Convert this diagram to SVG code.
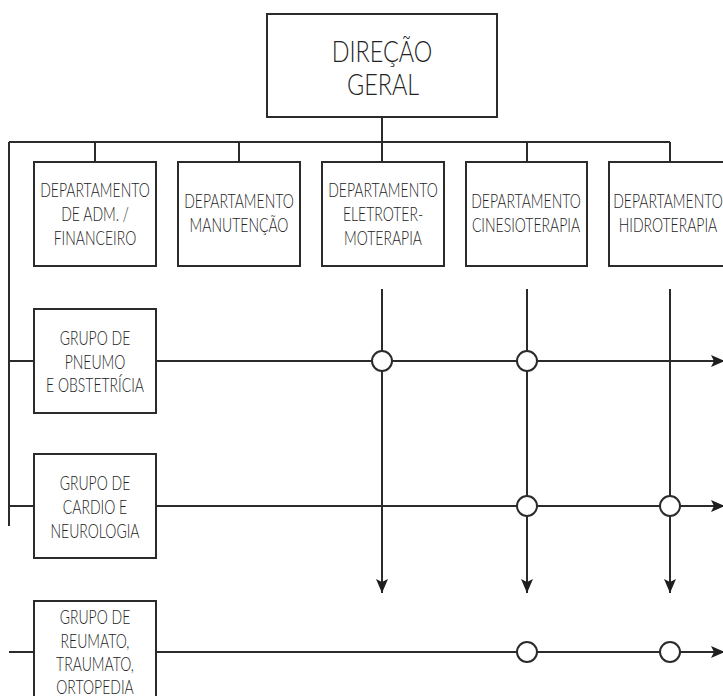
<svg xmlns="http://www.w3.org/2000/svg" width="723" height="696" viewBox="0 0 723 696">
<style>
.box{fill:#fff;stroke:#2b2b2b;stroke-width:2}
.ln{fill:none;stroke:#2b2b2b;stroke-width:2}
.jn{fill:#fff;stroke:#2b2b2b;stroke-width:2}
.t{font-family:Lato,"Liberation Sans",Arial,sans-serif;font-weight:300;font-size:20px;fill:#222;text-anchor:middle}
.tt{font-family:Lato,"Liberation Sans",Arial,sans-serif;font-weight:300;font-size:30px;fill:#222;text-anchor:middle}
</style>
<defs>
<marker id="ah" viewBox="0 0 14 12" refX="14" refY="6" markerWidth="14" markerHeight="12" markerUnits="userSpaceOnUse" orient="auto">
<path d="M0,0 L14,6 L0,12 L3,6 z" fill="#1e1e1e"/>
</marker>
</defs>
<rect width="723" height="696" fill="#fff"/>
<g id="connectors">
<path class="ln" d="M382,117 V142 M9,142 H670 M95,142 V162 M239,142 V162 M382,142 V162 M527,142 V162 M670,142 V162 M9,142 V526"/>
<path class="ln" d="M9,361 H34 M9,506 H34 M9,652 H34"/>
<path class="ln" marker-end="url(#ah)" d="M156,361 H725"/>
<path class="ln" marker-end="url(#ah)" d="M156,506 H725"/>
<path class="ln" marker-end="url(#ah)" d="M156,652 H725"/>
<path class="ln" marker-end="url(#ah)" d="M382,289 V593"/>
<path class="ln" marker-end="url(#ah)" d="M527,289 V593"/>
<path class="ln" marker-end="url(#ah)" d="M670,289 V593"/>
<circle class="jn" cx="382" cy="361" r="10"/>
<circle class="jn" cx="527" cy="361" r="10"/>
<circle class="jn" cx="527" cy="506" r="10"/>
<circle class="jn" cx="670" cy="506" r="10"/>
<circle class="jn" cx="527" cy="652" r="10"/>
<circle class="jn" cx="670" cy="652" r="10"/>
</g>
<g id="direcao">
<rect class="box" x="267" y="14" width="230" height="103"/>
<text class="tt" transform="translate(382,62) scale(0.78,1)">DIREÇÃO</text>
<text class="tt" transform="translate(383,95) scale(0.78,1)">GERAL</text>
</g>
<g id="dep-adm">
<rect class="box" x="34" y="162" width="122" height="104"/>
<text class="t" transform="translate(95,197) scale(0.7,1)">DEPARTAMENTO</text>
<text class="t" transform="translate(95,221) scale(0.7,1)">DE ADM. /</text>
<text class="t" transform="translate(95,245) scale(0.7,1)">FINANCEIRO</text>
</g>
<g id="dep-manut">
<rect class="box" x="178" y="162" width="122" height="104"/>
<text class="t" transform="translate(239,208) scale(0.7,1)">DEPARTAMENTO</text>
<text class="t" transform="translate(239,232) scale(0.7,1)">MANUTENÇÃO</text>
</g>
<g id="dep-eletro">
<rect class="box" x="322" y="162" width="122" height="104"/>
<text class="t" transform="translate(383,197) scale(0.7,1)">DEPARTAMENTO</text>
<text class="t" transform="translate(383,221) scale(0.7,1)">ELETROTER-</text>
<text class="t" transform="translate(383,245) scale(0.7,1)">MOTERAPIA</text>
</g>
<g id="dep-cinesio">
<rect class="box" x="466" y="162" width="121" height="104"/>
<text class="t" transform="translate(526,208) scale(0.7,1)">DEPARTAMENTO</text>
<text class="t" transform="translate(526,232) scale(0.7,1)">CINESIOTERAPIA</text>
</g>
<g id="dep-hidro">
<rect class="box" x="609" y="162" width="122" height="104"/>
<text class="t" transform="translate(668,208) scale(0.7,1)">DEPARTAMENTO</text>
<text class="t" transform="translate(668,232) scale(0.7,1)">HIDROTERAPIA</text>
</g>
<g id="grupo-pneumo">
<rect class="box" x="34" y="309" width="122" height="104"/>
<text class="t" transform="translate(95,345) scale(0.7,1)">GRUPO DE</text>
<text class="t" transform="translate(95,369) scale(0.7,1)">PNEUMO</text>
<text class="t" transform="translate(95,392) scale(0.7,1)">E OBSTETRÍCIA</text>
</g>
<g id="grupo-cardio">
<rect class="box" x="34" y="454" width="122" height="104"/>
<text class="t" transform="translate(95,490) scale(0.7,1)">GRUPO DE</text>
<text class="t" transform="translate(95,514) scale(0.7,1)">CARDIO E</text>
<text class="t" transform="translate(95,538) scale(0.7,1)">NEUROLOGIA</text>
</g>
<g id="grupo-reumato">
<rect class="box" x="34" y="601" width="122" height="110"/>
<text class="t" transform="translate(95,624) scale(0.7,1)">GRUPO DE</text>
<text class="t" transform="translate(95,648) scale(0.7,1)">REUMATO,</text>
<text class="t" transform="translate(95,671) scale(0.7,1)">TRAUMATO,</text>
<text class="t" transform="translate(95,694) scale(0.7,1)">ORTOPEDIA</text>
</g>
</svg>
